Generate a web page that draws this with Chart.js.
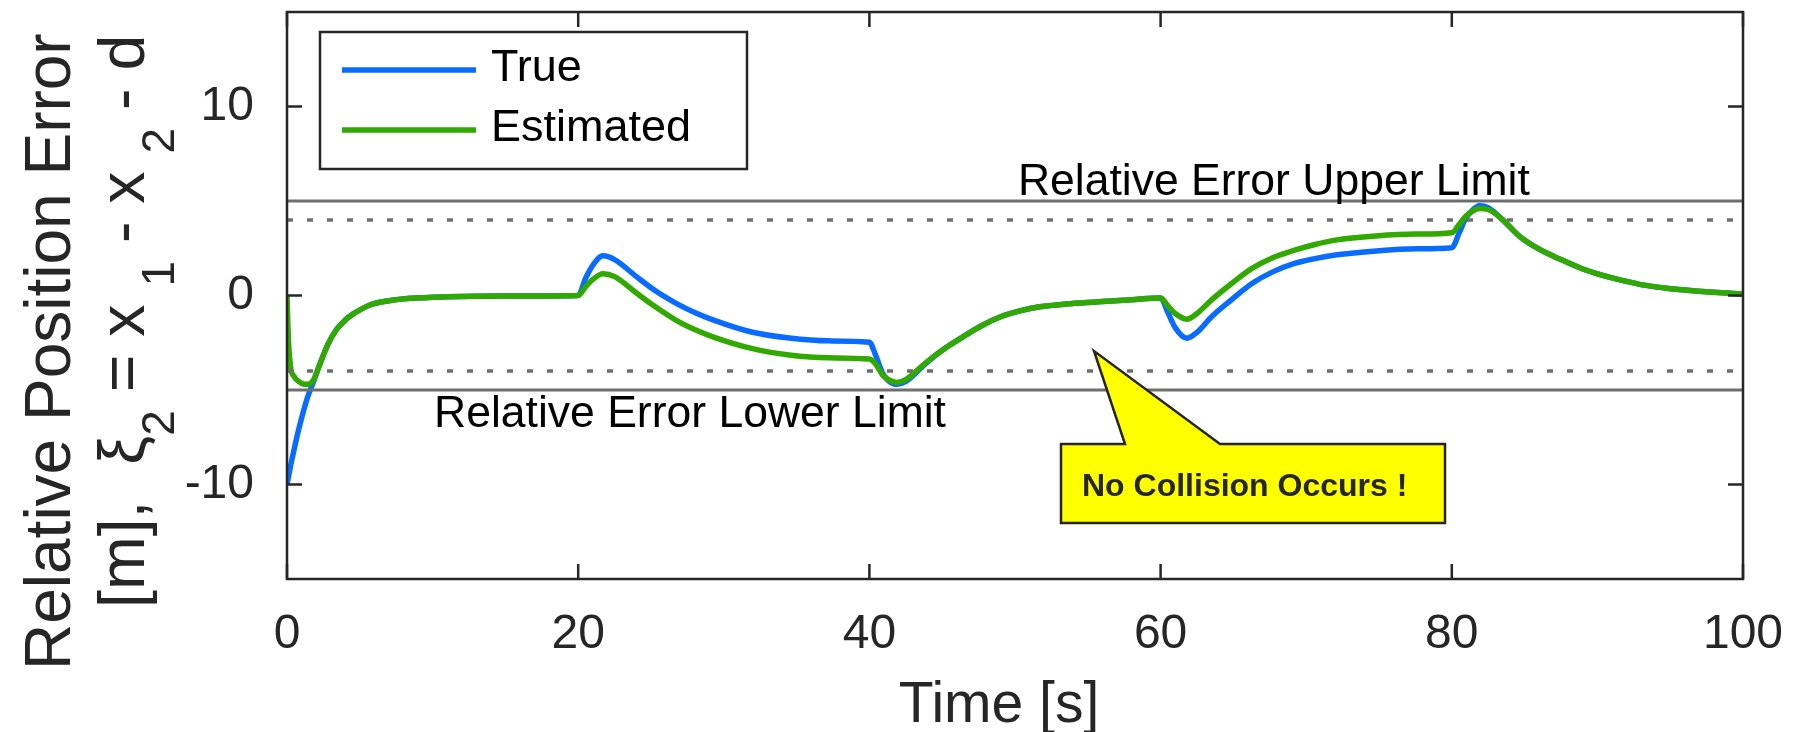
<!DOCTYPE html>
<html>
<head>
<meta charset="utf-8">
<title>Relative Position Error</title>
<script src="https://cdn.jsdelivr.net/npm/chart.js@4.4.1/dist/chart.umd.min.js"></script>
<style>
  html, body { margin: 0; padding: 0; background: #ffffff; }
  #wrap { width: 1795px; height: 732px; position: relative; }
</style>
</head>
<body>
<div id="wrap"><canvas id="chart"></canvas></div>
<script>
// values (time in s, error in m)
const timeS = [0, 0.1, 0.25, 0.5, 0.8, 1.1, 1.45, 1.8, 2.2, 2.8, 3.4, 4.0, 4.5, 5.7, 7.0, 8.5, 11, 15,
  20, 20.5, 21.0, 21.7, 22.5, 24.0, 25.3, 26.7, 28.0, 29.3, 31.9, 34.5, 37.2,
  40.0, 40.4, 40.9, 41.3, 41.9, 42.5, 43.8, 45.0, 46.4, 47.7, 49.1, 50.4, 51.7, 53.5, 55.6, 58.0,
  60.0, 60.5, 61.0, 61.8, 62.5, 63.5, 64.9, 66.3, 67.7, 69.2, 70.6, 72.0, 74.8, 77.6,
  80.0, 80.5, 80.9, 81.4, 81.9, 82.5, 83.5, 84.7, 86.0, 87.5, 89.0, 90.3, 91.7, 93.2, 94.6, 96.0, 98.0, 100];
const trueErr = [-10, -9.6, -9.0, -8.1, -7.1, -6.2, -5.3, -4.6, -3.75, -2.6, -1.8, -1.3, -1.0, -0.5, -0.28, -0.15, -0.07, -0.03,
  0, 0.9, 1.6, 2.1, 1.9, 1.0, 0.25, -0.4, -0.9, -1.3, -1.93, -2.25, -2.4,
  -2.47, -3.1, -4.1, -4.5, -4.7, -4.55, -3.65, -2.9, -2.2, -1.6, -1.1, -0.8, -0.6, -0.45, -0.34, -0.22,
  -0.13, -0.9, -1.7, -2.26, -1.95, -1.12, -0.2, 0.65, 1.25, 1.7, 1.95, 2.14, 2.36, 2.47,
  2.53, 3.3, 4.0, 4.5, 4.75, 4.65, 4.0, 3.1, 2.45, 1.9, 1.4, 1.08, 0.8, 0.55, 0.4, 0.29, 0.17, 0.08];
const estErr = [0, -2.4, -3.8, -4.3, -4.55, -4.68, -4.7, -4.5, -3.75, -2.6, -1.8, -1.3, -1.0, -0.5, -0.28, -0.15, -0.07, -0.03,
  0, 0.45, 0.85, 1.15, 1.0, 0.13, -0.6, -1.3, -1.8, -2.2, -2.8, -3.15, -3.3,
  -3.36, -3.6, -4.2, -4.45, -4.6, -4.45, -3.6, -2.9, -2.2, -1.6, -1.1, -0.8, -0.6, -0.45, -0.34, -0.22,
  -0.13, -0.55, -0.95, -1.25, -0.95, -0.23, 0.65, 1.45, 2.0, 2.4, 2.7, 2.93, 3.15, 3.25,
  3.32, 3.75, 4.15, 4.45, 4.6, 4.55, 4.0, 3.1, 2.45, 1.9, 1.4, 1.08, 0.8, 0.55, 0.4, 0.29, 0.17, 0.08];

const seriesLabels = ["True", "Estimated"];
const limitTime = [0, 100];
const upperLimit = [5, 5];
const upperWarn = [4, 4];
const lowerWarn = [-4, -4];
const lowerLimit = [-5, -5];
const limitLabels = ["Relative Error Upper Limit", "Relative Error Lower Limit"];
const xTicks = [0, 20, 40, 60, 80, 100];
const yTicks = [-10, 0, 10];
const xTitle = "Time [s]";
const yTitleLine1 = "Relative Position Error";
const yTitleLine2 = [
  { text: "[m],  " }, { text: "ξ" }, { text: "2", sub: true },
  { text: " = x " }, { text: "1", sub: true },
  { text: " - x " }, { text: "2", sub: true }, { text: " - d" },
];
const calloutText = "No Collision Occurs !";

const FONT = "'Liberation Sans', Arial, Helvetica, sans-serif";
const INK = "#262626";
const BLUE = "#0a6cff";
const GREEN = "#31a900";
const LIMIT_GRAY = "#6e6e6e";

function pts(xs, ys) {
  return xs.map((x, i) => ({ x: x, y: ys[i] }));
}

function limitSet(vals, dashed) {
  return {
    data: pts(limitTime, vals),
    borderColor: LIMIT_GRAY,
    borderWidth: dashed ? 3.5 : 3,
    borderDash: dashed ? [6, 14] : [],
    pointRadius: 0,
    order: -1,
  };
}

// rotated text, reading upward, subscripts pushed to the right
function drawRotated(ctx, baseX, startY, pieces, size, subSize, subShift) {
  ctx.save();
  ctx.translate(baseX, startY);
  ctx.rotate(-Math.PI / 2);
  ctx.textAlign = "left";
  ctx.textBaseline = "alphabetic";
  ctx.fillStyle = INK;
  let pos = 0;
  pieces.forEach((p) => {
    ctx.font = (p.sub ? subSize : size) + "px " + FONT;
    ctx.fillText(p.text, pos, p.sub ? subShift : 0);
    pos += ctx.measureText(p.text).width;
  });
  ctx.restore();
}

const matlabDecor = {
  id: "matlabDecor",
  afterDatasetsDraw(chart) {
    const { ctx, chartArea: a, scales } = chart;
    const x = scales.x, y = scales.y;
    ctx.save();
    ctx.strokeStyle = INK;
    ctx.lineWidth = 2.5;
    ctx.strokeRect(a.left, a.top, a.right - a.left, a.bottom - a.top);
    const tl = 15;
    ctx.beginPath();
    x.ticks.forEach((t) => {
      const px = x.getPixelForValue(t.value);
      ctx.moveTo(px, a.bottom); ctx.lineTo(px, a.bottom - tl);
      ctx.moveTo(px, a.top); ctx.lineTo(px, a.top + tl);
    });
    y.ticks.forEach((t) => {
      const py = y.getPixelForValue(t.value);
      ctx.moveTo(a.left, py); ctx.lineTo(a.left + tl, py);
      ctx.moveTo(a.right, py); ctx.lineTo(a.right - tl, py);
    });
    ctx.stroke();
    ctx.restore();
  },
  afterDraw(chart) {
    const { ctx, chartArea: a, scales } = chart;
    const x = scales.x, y = scales.y;
    ctx.save();

    // limit labels
    ctx.fillStyle = "#000000";
    ctx.font = "44.5px " + FONT;
    ctx.textAlign = "left";
    ctx.textBaseline = "alphabetic";
    ctx.fillText(limitLabels[0], x.getPixelForValue(50.2), y.getPixelForValue(5) - 6);
    ctx.fillText(limitLabels[1], x.getPixelForValue(10.1), y.getPixelForValue(-5) + 37);

    // legend box
    ctx.fillStyle = "#ffffff";
    ctx.fillRect(320, 32, 427, 137);
    ctx.strokeStyle = INK;
    ctx.lineWidth = 2.5;
    ctx.strokeRect(320, 32, 427, 137);
    const legendRows = [{ c: BLUE, y: 70 }, { c: GREEN, y: 130 }];
    ctx.lineWidth = 5.5;
    legendRows.forEach((r, i) => {
      ctx.strokeStyle = r.c;
      ctx.beginPath();
      ctx.moveTo(342, r.y);
      ctx.lineTo(476, r.y);
      ctx.stroke();
      ctx.fillStyle = "#000000";
      ctx.font = "45px " + FONT;
      ctx.textBaseline = "middle";
      ctx.fillText(seriesLabels[i], 491, r.y - 1);
    });

    // callout
    ctx.beginPath();
    ctx.moveTo(1061, 444);
    ctx.lineTo(1125, 444);
    ctx.lineTo(1094, 351);
    ctx.lineTo(1220, 444);
    ctx.lineTo(1445, 444);
    ctx.lineTo(1445, 523);
    ctx.lineTo(1061, 523);
    ctx.closePath();
    ctx.fillStyle = "#ffff00";
    ctx.fill();
    ctx.strokeStyle = INK;
    ctx.lineWidth = 2.5;
    ctx.stroke();
    ctx.fillStyle = INK;
    ctx.font = "bold 32px " + FONT;
    ctx.textBaseline = "alphabetic";
    ctx.fillText(calloutText, 1082, 496);

    // axis titles
    ctx.fillStyle = INK;
    ctx.font = "57px " + FONT;
    ctx.textAlign = "center";
    ctx.fillText(xTitle, (a.left + a.right) / 2 - 16, 722);
    ctx.restore();

    drawRotated(ctx, 70, 670, [{ text: yTitleLine1 }], 64, 44, 0);
    drawRotated(ctx, 144, 608, yTitleLine2, 64.5, 46, 30);
  },
};

new Chart(document.getElementById("chart"), {
  type: "line",
  data: {
    datasets: [
      {
        label: seriesLabels[0],
        data: pts(timeS, trueErr),
        borderColor: BLUE,
        borderWidth: 5.5,
        pointRadius: 0,
        cubicInterpolationMode: "monotone",
        order: 1,
      },
      {
        label: seriesLabels[1],
        data: pts(timeS, estErr),
        borderColor: GREEN,
        borderWidth: 5.5,
        pointRadius: 0,
        cubicInterpolationMode: "monotone",
        order: 0,
      },
      limitSet(upperLimit, false),
      limitSet(upperWarn, true),
      limitSet(lowerWarn, true),
      limitSet(lowerLimit, false),
    ],
  },
  options: {
    responsive: true,
    maintainAspectRatio: false,
    animation: false,
    layout: { padding: { left: 0, right: 52, top: 12, bottom: 0 } },
    plugins: { legend: { display: false }, tooltip: { enabled: false } },
    scales: {
      x: {
        type: "linear",
        min: 0,
        max: 100,
        afterBuildTicks: (s) => { s.ticks = xTicks.map((v) => ({ value: v })); },
        afterFit: (s) => { s.height = 153; s.paddingLeft = 0; s.paddingRight = 0; },
        grid: { display: false, drawTicks: false },
        border: { display: false },
        ticks: { padding: 27, color: INK, font: { family: FONT, size: 48 } },
      },
      y: {
        type: "linear",
        min: -15,
        max: 15,
        afterBuildTicks: (s) => { s.ticks = yTicks.map((v) => ({ value: v })); },
        afterFit: (s) => { s.width = 287; s.paddingTop = 0; s.paddingBottom = 0; },
        grid: { display: false, drawTicks: false },
        border: { display: false },
        ticks: { padding: 33, color: INK, font: { family: FONT, size: 48 } },
      },
    },
  },
  plugins: [matlabDecor],
});
</script>
</body>
</html>
